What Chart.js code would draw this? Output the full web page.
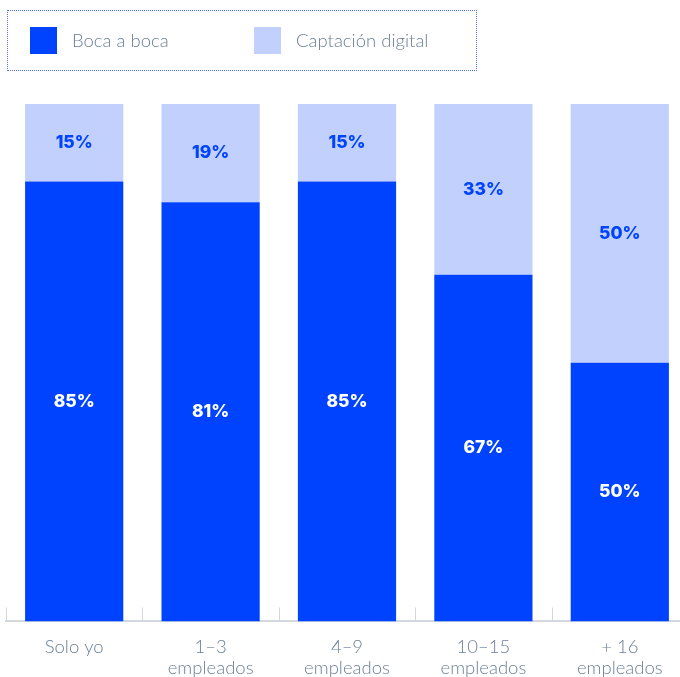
<!DOCTYPE html>
<html>
<head>
<meta charset="utf-8">
<script src="https://cdn.jsdelivr.net/npm/chart.js@4/dist/chart.umd.min.js"></script>
<style>
    html, body { margin: 0; padding: 0; background: #fff; overflow: hidden; }
    #wrap { position: relative; width: 680px; height: 677px; overflow: hidden; }
    #chart-box { position: absolute; left: 0; top: 0; width: 690px; height: 694px; }
    #legend {
        position: absolute; left: 7px; top: 10px; width: 468px; height: 59px;
        border: 1px dotted #4f73f2; box-sizing: content-box;
        font-family: Lato, "Open Sans", sans-serif; font-weight: 300; font-size: 18.5px; color: #6c7f96;
    }
    .legend-item { position: absolute; top: 16px; height: 27px; line-height: 27px; white-space: nowrap; }
    .legend-item span.swatch { position: absolute; left: 0; top: 0; width: 27px; height: 27px; }
    .legend-item span.text { position: absolute; left: 42px; top: 0; }
</style>
</head>
<body>
<div id="wrap">
    <div id="chart-box"><canvas id="stackChart" width="690" height="694"></canvas></div>
    <div id="legend"></div>
</div>
<script>
    // Categories and series (percent of respondents)
    const categories = [['Solo yo'], ['1–3', 'empleados'], ['4–9', 'empleados'], ['10–15', 'empleados'], ['+ 16', 'empleados']];
    const seriesNames = ['Boca a boca', 'Captación digital'];
    const bocaABoca = [85, 81, 85, 67, 50];
    const captacionDigital = [15, 19, 15, 33, 50];
    const seriesColors = ['#0043ff', '#c1d0fc'];
    const labelColors = ['#ffffff', '#0043ff'];

    // HTML legend with dotted frame
    function buildLegend() {
        var legend = document.getElementById('legend');
        var offsets = [22, 246];
        seriesNames.forEach(function(name, i) {
            var item = document.createElement('div');
            item.className = 'legend-item';
            item.style.left = offsets[i] + 'px';
            item.innerHTML = '<span class="swatch" style="background:' + seriesColors[i] + '"></span><span class="text">' + name + '</span>';
            legend.appendChild(item);
        });
    }

    // Value labels centered in each segment
    const segmentLabels = {
        id: 'segmentLabels',
        afterDatasetsDraw(chart) {
            const ctx = chart.ctx;
            ctx.save();
            ctx.font = '800 17.5px Inter, "DejaVu Sans", sans-serif';
            ctx.textAlign = 'center';
            ctx.textBaseline = 'middle';
            chart.data.datasets.forEach((ds, di) => {
                const meta = chart.getDatasetMeta(di);
                ctx.fillStyle = labelColors[di];
                meta.data.forEach((bar, i) => {
                    ctx.fillText(ds.data[i] + '%', bar.x, (bar.y + bar.base) / 2);
                });
            });
            ctx.restore();
        }
    };

    // Short upward tick marks on category boundaries
    const boundaryTicks = {
        id: 'boundaryTicks',
        afterDraw(chart) {
            const x = chart.scales.x;
            const ctx = chart.ctx;
            const step = (x.right - x.left) / categories.length;
            ctx.save();
            ctx.strokeStyle = '#d3d8de';
            ctx.lineWidth = 1;
            for (let i = 0; i <= categories.length; i++) {
                const px = Math.round(x.left + i * step) + 0.5;
                ctx.beginPath();
                ctx.moveTo(px, x.top);
                ctx.lineTo(px, x.top - 14);
                ctx.stroke();
            }
            ctx.restore();
        }
    };

    function setupChart() {
        const ctx = document.getElementById('stackChart').getContext('2d');
        new Chart(ctx, {
            type: 'bar',
            data: {
                labels: categories,
                datasets: [
                    { label: seriesNames[0], data: bocaABoca, backgroundColor: seriesColors[0] },
                    { label: seriesNames[1], data: captacionDigital, backgroundColor: seriesColors[1] }
                ]
            },
            options: {
                responsive: false,
                animation: false,
                layout: { padding: { left: 6, right: 2, top: 104, bottom: 0 } },
                datasets: { bar: { categoryPercentage: 1, barPercentage: 0.72 } },
                plugins: { legend: { display: false }, tooltip: { enabled: false } },
                scales: {
                    x: {
                        stacked: true,
                        grid: { display: false, drawTicks: false },
                        border: { display: true, color: '#d3d8de', width: 2 },
                        ticks: {
                            padding: 15,
                            color: '#6c7f96',
                            font: { family: 'Lato, "Open Sans", sans-serif', weight: 300, size: 18.5, lineHeight: 1.15 },
                            maxRotation: 0,
                            autoSkip: false
                        }
                    },
                    y: {
                        stacked: true,
                        display: false,
                        min: 0,
                        max: 100
                    }
                }
            },
            plugins: [segmentLabels, boundaryTicks]
        });
    }

    buildLegend();
    setupChart();
</script>
</body>
</html>
